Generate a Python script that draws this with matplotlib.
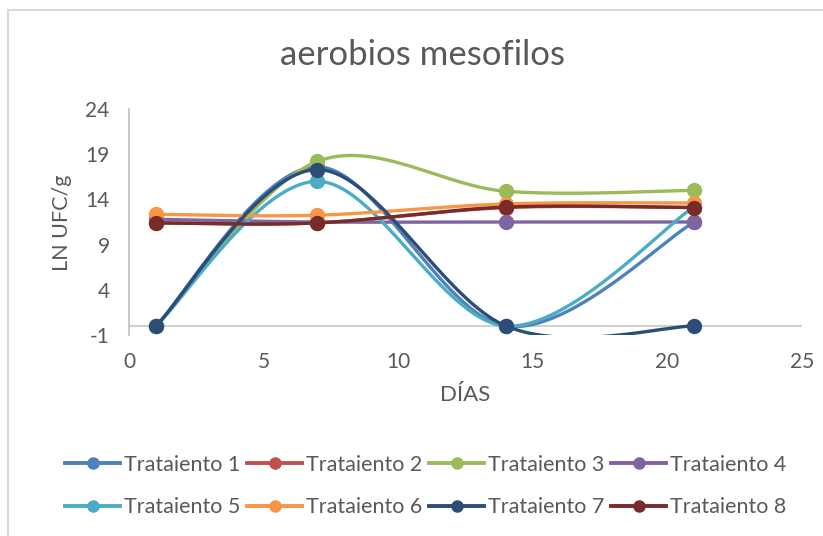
import numpy as np
import matplotlib.pyplot as plt
from matplotlib.lines import Line2D

plt.rcParams['font.family'] = ['Lato', 'DejaVu Sans']
plt.rcParams['axes.unicode_minus'] = False

dias = [1, 7, 14, 21]
nombres = ['Trataiento 1', 'Trataiento 2', 'Trataiento 3', 'Trataiento 4',
           'Trataiento 5', 'Trataiento 6', 'Trataiento 7', 'Trataiento 8']
t1 = [0, 17.6, 0, 11.5]
t2 = [11.4, 11.4, 13.1, 13.1]
t3 = [0, 18.2, 14.9, 15.0]
t4 = [11.8, 11.5, 11.5, 11.5]
t5 = [0, 16.0, 0, 13.2]
t6 = [12.35, 12.25, 13.5, 13.6]
t7 = [0, 17.3, 0, 0]
t8 = [11.4, 11.4, 13.15, 13.1]
series = [t1, t2, t3, t4, t5, t6, t7, t8]
colores = ['#4F81BD', '#C0504D', '#9BBB59', '#8064A2',
           '#4BACC6', '#F79646', '#2C4D75', '#772C2A']

gris = '#595959'


def suavizar(xs, ys, n=60):
    # curva Bezier por tramo, puntos de control estilo Excel (1/6 de la diferencia)
    p = np.column_stack([xs, ys]).astype(float)
    out = []
    for i in range(len(p) - 1):
        p0 = p[i - 1] if i > 0 else p[i]
        p1, p2 = p[i], p[i + 1]
        p3 = p[i + 2] if i + 2 < len(p) else p[i + 1]
        b1 = p1 + (p2 - p0) / 6
        b2 = p2 - (p3 - p1) / 6
        t = np.linspace(0, 1, n)[:, None]
        seg = ((1 - t) ** 3 * p1 + 3 * (1 - t) ** 2 * t * b1
               + 3 * (1 - t) * t ** 2 * b2 + t ** 3 * p2)
        out.append(seg if i == 0 else seg[1:])
    c = np.vstack(out)
    return c[:, 0], c[:, 1]


fig = plt.figure(figsize=(8.23, 5.36), dpi=100)
ax = fig.add_axes([129 / 823, 1 - 335 / 536, (802 - 129) / 823, (335 - 109) / 536])

for ys, col in zip(series, colores):
    sx, sy = suavizar(dias, ys)
    ax.plot(sx, sy, color=col, lw=2.4, solid_capstyle='round', zorder=3)
    ax.plot(dias, ys, 'o', color=col, ms=10, zorder=3)

ax.set_xlim(0, 25)
ax.set_ylim(-1, 24)
ax.set_xticks([0, 5, 10, 15, 20, 25])
ax.set_yticks([-1, 4, 9, 14, 19, 24])
ax.tick_params(length=0, labelsize=15, colors=gris)
ax.tick_params(axis='x', pad=12)
ax.tick_params(axis='y', pad=14)
for s in ['top', 'right', 'bottom']:
    ax.spines[s].set_visible(False)
ax.spines['left'].set_color('#BFBFBF')
ax.spines['left'].set_linewidth(1.2)
ax.axhline(0, color='#D0D0D0', lw=1.5, zorder=1)

fig.text(422 / 823, 1 - 55 / 536, 'aerobios mesofilos', ha='center', va='center',
         fontsize=25, color=gris)
fig.text(62 / 823, 1 - 223 / 536, 'LN UFC/g', ha='center', va='center',
         rotation=90, fontsize=15.5, color=gris)
fig.text(465 / 823, 1 - 395 / 536, 'DÍAS', ha='center', va='center',
         fontsize=16, color=gris)

# borde del área del gráfico
fig.add_artist(Line2D([8 / 823, 8 / 823], [0, 1 - 10 / 536], color='#D9D9D9', lw=1.5,
                      transform=fig.transFigure))
fig.add_artist(Line2D([8 / 823, 1], [1 - 10 / 536, 1 - 10 / 536], color='#D9D9D9', lw=1.5,
                      transform=fig.transFigure))

handles = [Line2D([], [], color=c, lw=2.8, marker='o', ms=8) for c in colores]
orden = [0, 4, 1, 5, 2, 6, 3, 7]
fig.legend([handles[i] for i in orden], [nombres[i] for i in orden],
           loc='center', bbox_to_anchor=(426 / 823, 1 - 486 / 536), ncol=4,
           frameon=False, fontsize=15.5, handlelength=2.55, handletextpad=0.2,
           columnspacing=0.3, labelspacing=1.05, labelcolor=gris)

fig.savefig('out.png', dpi=100)
